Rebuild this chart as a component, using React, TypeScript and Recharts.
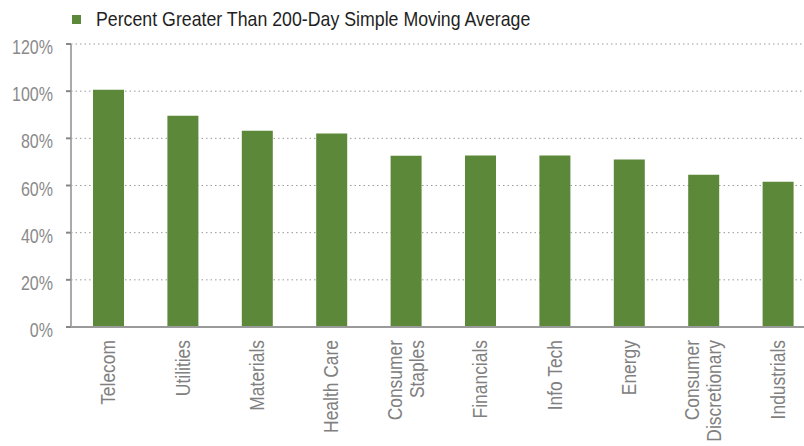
import { BarChart, Bar, XAxis, YAxis, CartesianGrid, Legend } from "recharts";

const categories = [
  "Telecom",
  "Utilities",
  "Materials",
  "Health Care",
  "Consumer\nStaples",
  "Financials",
  "Info Tech",
  "Energy",
  "Consumer\nDiscretionary",
  "Industrials",
];
const pctAbove200 = [100.6, 89.6, 83.2, 82.0, 72.6, 72.7, 72.7, 71.0, 64.6, 61.6];
const yTicks = [0, 20, 40, 60, 80, 100, 120];
const seriesName = "Percent Greater Than 200-Day Simple Moving Average";

const data = categories.map((sector, i) => ({ sector, pct: pctAbove200[i] }));

const GREEN = "#5c883a";
// no condensed face installed, so squeeze a regular sans horizontally
const FONT = '"Liberation Sans", Arial, sans-serif';
const SQUEEZE = 0.83;

function PercentTick({ x, y, payload }: any) {
  return (
    <text
      transform={`translate(${x},${y}) scale(0.8,1)`}
      dy={10}
      textAnchor="end"
      fill="#8a8a8a"
      fontSize={20}
      fontFamily={FONT}
    >
      {payload.value}%
    </text>
  );
}

function SectorTick({ x, y, payload }: any) {
  const lines = String(payload.value).split("\n");
  const lh = 22;
  return (
    <text
      transform={`translate(${x},${y}) rotate(-90) scale(${SQUEEZE},1)`}
      textAnchor="end"
      fill="#808080"
      fontSize={21}
      fontFamily={FONT}
    >
      {lines.map((line, i) => (
        <tspan key={i} x={0} y={7 - ((lines.length - 1) * lh) / 2 + i * lh}>
          {line}
        </tspan>
      ))}
    </text>
  );
}

function LegendBox() {
  return (
    <div style={{ height: 30, display: "flex", alignItems: "center", fontFamily: FONT }}>
      <span style={{ width: 9, height: 9, background: GREEN, display: "inline-block", marginLeft: 2 }} />
      <span
        style={{
          marginLeft: 15,
          fontSize: 21,
          color: "#1f1f1f",
          whiteSpace: "nowrap",
          display: "inline-block",
          transform: "scaleX(0.845)",
          transformOrigin: "left center",
        }}
      >
        {seriesName}
      </span>
    </div>
  );
}

export default function App() {
  return (
    <div
      style={{
        position: "absolute",
        left: 0,
        top: 0,
        width: 804,
        height: 446,
        overflow: "hidden",
        background: "#fff",
      }}
    >
      <BarChart width={815} height={446} data={data} margin={{ top: 14, right: 0, left: 0, bottom: 0 }}>
        <Legend
          verticalAlign="top"
          align="left"
          content={() => <LegendBox />}
          wrapperStyle={{ top: 4, left: 70, width: "auto" }}
        />
        <CartesianGrid vertical={false} stroke="#9a9a9a" strokeDasharray="1.5 3" />
        <XAxis
          dataKey="sector"
          interval={0}
          tickLine={false}
          tickSize={0}
          tickMargin={13}
          height={119}
          axisLine={{ stroke: "#9a9a9a", strokeWidth: 2 }}
          tick={<SectorTick />}
        />
        <YAxis
          width={71}
          domain={[0, 120]}
          ticks={yTicks}
          interval={0}
          tickSize={5}
          tickMargin={13}
          axisLine={{ stroke: "#aaaaaa", strokeWidth: 2 }}
          tickLine={{ stroke: "#888888", strokeWidth: 2 }}
          tick={<PercentTick />}
        />
        <Bar dataKey="pct" name={seriesName} fill={GREEN} barSize={31} isAnimationActive={false} />
      </BarChart>
    </div>
  );
}
